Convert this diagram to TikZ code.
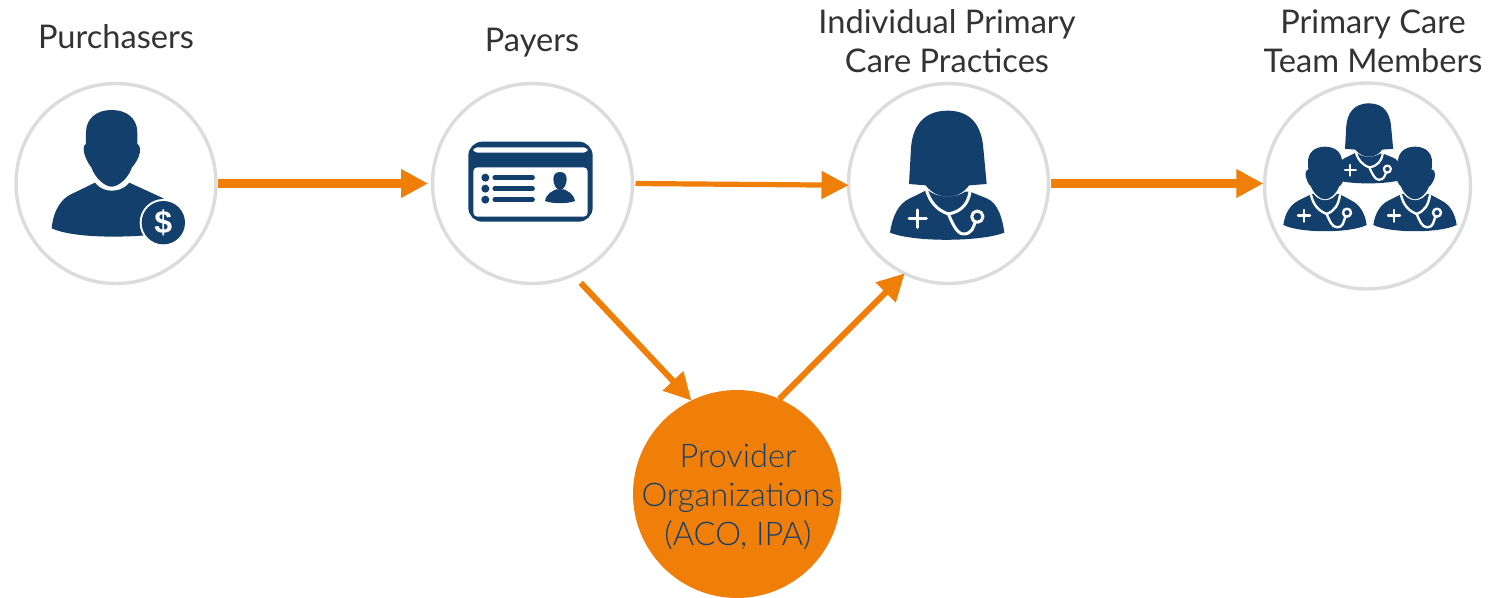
\documentclass[tikz,border=0pt]{standalone}
\usepackage{fontspec}
\setmainfont{Lato}
\newfontfamily\lightfont{Lato Light}
\newfontfamily\dollarfont{Liberation Sans Bold}
\usetikzlibrary{arrows.meta,calc}
\definecolor{navy}{HTML}{123F6B}
\definecolor{flow}{HTML}{F07F09}
\definecolor{ring}{HTML}{DCDCDC}
\definecolor{ink}{HTML}{333333}
\definecolor{provink}{HTML}{163F6B}
\tikzset{
  stage/.style={circle,draw=ring,line width=1.7pt,fill=white,inner sep=0pt,outer sep=0pt,minimum size=100pt},
  stagelabel/.style={text=ink,font=\fontsize{16.3}{19.5}\selectfont,align=center,inner sep=0pt},
  flowthick/.style={draw=flow,line width=4.5pt,shorten <=1pt,-{Triangle[length=13.5pt,width=13.5pt]}},
  flowthin/.style={draw=flow,line width=2.6pt,-{Triangle[length=13.5pt,width=13.5pt]}},
  gap/.style={draw=white,fill=none,line cap=round,line join=round},
}
% female clinician, drawn in the coordinates of a 3x crop
\newcommand{\femaledoc}[1]{%
  \fill[navy] (165,488) .. controls (172,440) and (190,400) .. (225,385) -- (272,362) -- (405,365) -- (455,385)
     .. controls (490,400) and (502,445) .. (508,488) .. controls (440,515) and (240,518) .. (165,488) -- cycle;
  \draw[gap,line width=#1] (275,362) .. controls (285,395) and (305,420) .. (340,432)
     .. controls (350,455) and (365,492) .. (385,492) .. controls (412,492) and (415,470) .. (420,458);
  \draw[gap,line width=#1] (405,365) .. controls (400,400) and (380,425) .. (340,432);
  \draw[gap,line width=#1] (427,440) circle (17);
  \draw[gap,line width=#1] (248,420) -- (248,472) (222,446) -- (274,446);
  \draw[gap,line width=#1] (270,345) .. controls (300,385) and (375,385) .. (405,345);
  \fill[navy] (338,122) .. controls (265,122) and (232,170) .. (228,235) -- (222,342) -- (272,346)
     .. controls (290,370) and (315,380) .. (338,380) .. controls (361,380) and (386,370) .. (402,346)
     -- (455,342) -- (445,235) .. controls (440,170) and (410,122) .. (338,122) -- cycle;
}
% male clinician, drawn in the coordinates of a 3x crop
\newcommand{\maledoc}[1]{%
  \fill[navy] (100,465) .. controls (105,430) and (120,405) .. (145,392) -- (185,372) -- (268,372) -- (305,392)
     .. controls (330,405) and (345,430) .. (350,465) .. controls (300,490) and (150,490) .. (100,465) -- cycle;
  \draw[gap,line width=#1] (183,375) .. controls (190,405) and (205,422) .. (230,432)
     .. controls (238,450) and (245,472) .. (262,472) .. controls (280,472) and (280,455) .. (285,443);
  \draw[gap,line width=#1] (270,375) .. controls (265,405) and (255,422) .. (230,432);
  \draw[gap,line width=#1] (291,428) circle (12);
  \draw[gap,line width=#1] (162,420) -- (162,455) (144,437) -- (180,437);
  \draw[gap,line width=#1] (190,362) .. controls (205,395) and (245,395) .. (262,362);
  \fill[navy] (225,230) .. controls (192,230) and (173,250) .. (174,278) -- (175,298) .. controls (166,300) and (164,315) .. (170,328)
     .. controls (174,340) and (178,345) .. (183,350) .. controls (192,372) and (210,388) .. (225,388)
     .. controls (240,388) and (258,372) .. (267,350) .. controls (274,345) and (280,335) .. (284,322)
     .. controls (286,310) and (284,300) .. (275,298) -- (276,278) .. controls (277,250) and (258,230) .. (225,230) -- cycle;
}
\begin{document}
\begin{tikzpicture}[x=0.5pt,y=-0.5pt]
\useasboundingbox (0,0) rectangle (1494,598);
\fill[white] (0,0) rectangle (1494,598);

\node[stage] (purch) at (116,183.5) {};
\node[stage] (payer) at (532.5,183.5) {};
\node[stage] (pract) at (948.5,183.5) {};
\node[stage,minimum size=103pt] (team) at (1367.5,186) {};
\node[circle,fill=flow,inner sep=0pt,outer sep=0pt,minimum size=104pt] (prov) at (737,494) {};
\node[text=provink,font=\lightfont\fontsize{16.3}{19.5}\selectfont,align=center,inner sep=0pt] (provtext) at (738,497)
      {Provider\\Organizations\\(ACO, IPA)};

\node[stagelabel] (lpurch) at (116,37) {Purchasers};
\node[stagelabel] (lpayer) at (532,43) {Payers};
\node[stagelabel] (lpract) at (947,41) {Individual Primary\\Care Practices};
\node[stagelabel] (lteam) at (1373,41) {Primary Care\\Team Members};

\coordinate (teamin) at (team.west |- pract.east);
\draw[flowthick,shorten >=2.2pt] (purch.east) -- (payer.west);
\draw[flowthin,shorten <=1.5pt] (payer.east) -- (pract.181);
\draw[flowthick,shorten >=0.6pt] (pract.east) -- (teamin);
\draw[flowthin,line width=3pt,shorten <=5.5pt] (payer.-66) -- (prov.116);
\draw[flowthin,line width=3pt] (prov.66) -- (pract.-116);

% purchaser icon
\begin{scope}[shift={(0,70)},scale=1/3]
  \fill[navy] (155,475) .. controls (160,420) and (185,385) .. (215,372) -- (285,338)
     .. controls (300,358) and (320,362) .. (335,362) .. controls (352,362) and (372,358) .. (388,338)
     -- (490,385) -- (500,490) .. controls (380,505) and (220,505) .. (155,475) -- cycle;
  \fill[navy] (335,120) .. controls (290,120) and (258,145) .. (258,188) -- (258,222) .. controls (248,225) and (250,245) .. (256,260)
     .. controls (262,275) and (268,285) .. (274,292) .. controls (285,325) and (315,350) .. (335,350)
     .. controls (355,350) and (385,325) .. (396,292) .. controls (402,285) and (410,275) .. (416,260)
     .. controls (422,245) and (422,225) .. (412,222) -- (412,188) .. controls (412,145) and (380,120) .. (335,120) -- cycle;
  \fill[white] (490,458) circle (71);
  \fill[navy] (490,458) circle (65);
  \node[text=white,font=\dollarfont\fontsize{16}{18}\selectfont,inner sep=0pt] (dollar) at (490,458) {\$};
\end{scope}

% insurance card icon
\begin{scope}[shift={(420,70)},scale=1/3]
  \fill[navy,rounded corners=7pt] (145,215) rectangle (518,455);
  \fill[white,rounded corners=2pt] (160,232) rectangle (503,248);
  \fill[white,rounded corners=2pt] (160,292) rectangle (503,440);
  \foreach \yy in {323,356,389}{
    \fill[navy] (196,\yy) circle (12);
    \draw[navy,line width=2.2pt,line cap=round] (224,\yy) -- (338,\yy);
  }
  \fill[navy] (375,393) .. controls (380,370) and (395,365) .. (408,358) -- (432,358)
     .. controls (445,365) and (460,370) .. (465,393) .. controls (440,402) and (400,402) .. (375,393) -- cycle;
  \fill[navy] (420,306) .. controls (405,306) and (400,316) .. (400,328) .. controls (400,345) and (410,360) .. (420,360)
     .. controls (430,360) and (440,345) .. (440,328) .. controls (440,316) and (435,306) .. (420,306) -- cycle;
\end{scope}

% practice icon
\begin{scope}[shift={(835,70)},scale=1/3]
  \femaledoc{1.5pt}
\end{scope}

% team icon
\begin{scope}[shift={(1250,70)},scale=1/3]
  \begin{scope}[shift={(147.4,24.4)},scale=0.62]
    \femaledoc{1.1pt}
  \end{scope}
  \maledoc{1.2pt}
  \begin{scope}[shift={(270,0)}]
    \maledoc{1.2pt}
  \end{scope}
\end{scope}
\end{tikzpicture}
\end{document}
